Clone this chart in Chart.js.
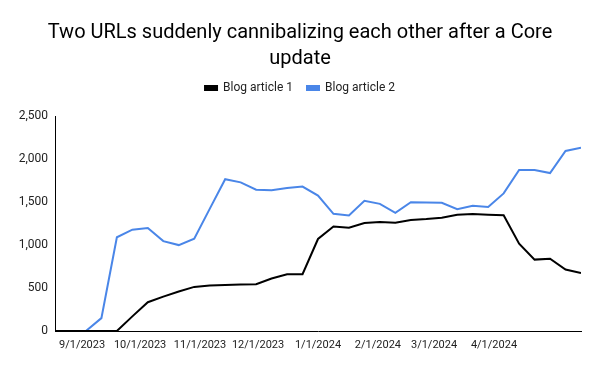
<!DOCTYPE html>
<html>
<head>
<meta charset="utf-8">
<script src="https://cdn.jsdelivr.net/npm/chart.js@4.4.1/dist/chart.umd.min.js"></script>
<style>
  html, body { margin: 0; padding: 0; background: #fff; }
  #wrap { width: 600px; height: 371px; }
</style>
</head>
<body>
<div id="wrap"><canvas id="cannibalChart" width="600" height="371"></canvas></div>
<script>
// data (one point every 8 days)
var dates = [
  "2023-08-18", "2023-08-26", "2023-09-03", "2023-09-11", "2023-09-19",
  "2023-09-27", "2023-10-05", "2023-10-13", "2023-10-21", "2023-10-29",
  "2023-11-06", "2023-11-14", "2023-11-22", "2023-11-30", "2023-12-08",
  "2023-12-16", "2023-12-24", "2024-01-01", "2024-01-09", "2024-01-17",
  "2024-01-25", "2024-02-02", "2024-02-10", "2024-02-18", "2024-02-26",
  "2024-03-05", "2024-03-13", "2024-03-21", "2024-03-29", "2024-04-06",
  "2024-04-14", "2024-04-22", "2024-04-30", "2024-05-08", "2024-05-16"
];
var article1 = [
  0, 0, 0, 0, 0, 170, 335, 400, 460, 513,
  529, 536, 540, 544, 610, 660, 660, 1070, 1215, 1200,
  1255, 1268, 1258, 1290, 1302, 1318, 1352, 1360, 1352, 1345,
  1015, 830, 840, 714, 675
];
var article2 = [
  0, 0, 0, 150, 1090, 1178, 1198, 1045, 999, 1073,
  1420, 1765, 1728, 1643, 1638, 1663, 1680, 1574, 1362, 1343,
  1514, 1478, 1374, 1497, 1495, 1490, 1416, 1455, 1443, 1600,
  1873, 1873, 1836, 2093, 2130
];
var tickDates = ["2023-09-01", "2023-10-01", "2023-11-01", "2023-12-01",
                 "2024-01-01", "2024-02-01", "2024-03-01", "2024-04-01"];
var tickLabels = ["9/1/2023", "10/1/2023", "11/1/2023", "12/1/2023",
                  "1/1/2024", "2/1/2024", "3/1/2024", "4/1/2024"];
var yTicks = [0, 500, 1000, 1500, 2000, 2500];

(function () {
  "use strict";

  function dayNum(s) {
    var p = s.split("-");
    return Date.UTC(+p[0], +p[1] - 1, +p[2]) / 86400000;
  }
  var day0 = dayNum(dates[0]);
  var xs = dates.map(function (d) { return dayNum(d) - day0; });
  var tickXs = tickDates.map(function (d) { return dayNum(d) - day0; });

  function pts(vals) {
    return vals.map(function (v, i) { return { x: xs[i], y: v }; });
  }

  // extra room under the legend, like the sheet chart has
  var legendGap = {
    id: "legendGap",
    beforeLayout: function (chart) {
      var lg = chart.legend;
      if (lg && !lg._gapWrapped) {
        var fit = lg.fit;
        lg.fit = function () {
          fit.call(this);
          this.height += 12;
        };
        lg._gapWrapped = true;
      }
    }
  };

  var font = "Roboto, 'Liberation Sans', sans-serif";
  var ctx = document.getElementById("cannibalChart").getContext("2d");
  var myChart = new Chart(ctx, {
    type: "line",
    data: {
      datasets: [{
        label: "Blog article 1",
        data: pts(article1),
        borderColor: "#000000",
        backgroundColor: "#000000",
        borderWidth: 2,
        pointRadius: 0,
        tension: 0
      }, {
        label: "Blog article 2",
        data: pts(article2),
        borderColor: "#4a86e8",
        backgroundColor: "#4a86e8",
        borderWidth: 2,
        pointRadius: 0,
        tension: 0
      }]
    },
    plugins: [legendGap],
    options: {
      responsive: false,
      animation: false,
      layout: { padding: { left: 19, right: 19, top: 0, bottom: 0 } },
      plugins: {
        title: {
          display: true,
          text: ["Two URLs suddenly cannibalizing each other after a Core", "update"],
          color: "#000",
          font: { family: font, size: 20, weight: "normal", lineHeight: 1.3 },
          padding: { top: 20, bottom: -4 }
        },
        legend: {
          position: "top",
          labels: {
            color: "#222",
            font: { family: font, size: 12 },
            boxWidth: 12,
            boxHeight: 4,
            padding: 14
          }
        },
        tooltip: { enabled: false }
      },
      scales: {
        x: {
          type: "linear",
          min: xs[0],
          max: xs[xs.length - 1],
          grid: { display: false, drawTicks: false },
          border: { display: true, color: "#000", width: 1 },
          afterBuildTicks: function (scale) {
            scale.ticks = tickXs.map(function (v) { return { value: v }; });
          },
          afterFit: function (scale) { scale.height = 40; },
          ticks: {
            autoSkip: false,
            maxRotation: 0,
            padding: 8,
            color: "#222",
            font: { family: font, size: 11 },
            callback: function (v) {
              var k = tickXs.indexOf(v);
              return k >= 0 ? tickLabels[k] : "";
            }
          }
        },
        y: {
          min: yTicks[0],
          max: yTicks[yTicks.length - 1],
          grid: { display: false, drawTicks: false },
          border: { display: true, color: "#000", width: 1 },
          afterBuildTicks: function (scale) {
            scale.ticks = yTicks.map(function (v) { return { value: v }; });
          },
          afterFit: function (scale) { scale.width = 36; },
          ticks: {
            padding: 7,
            color: "#222",
            font: { family: font, size: 12 },
            callback: function (v) { return v.toLocaleString("en-US"); }
          }
        }
      }
    }
  });
})();
</script>
</body>
</html>
